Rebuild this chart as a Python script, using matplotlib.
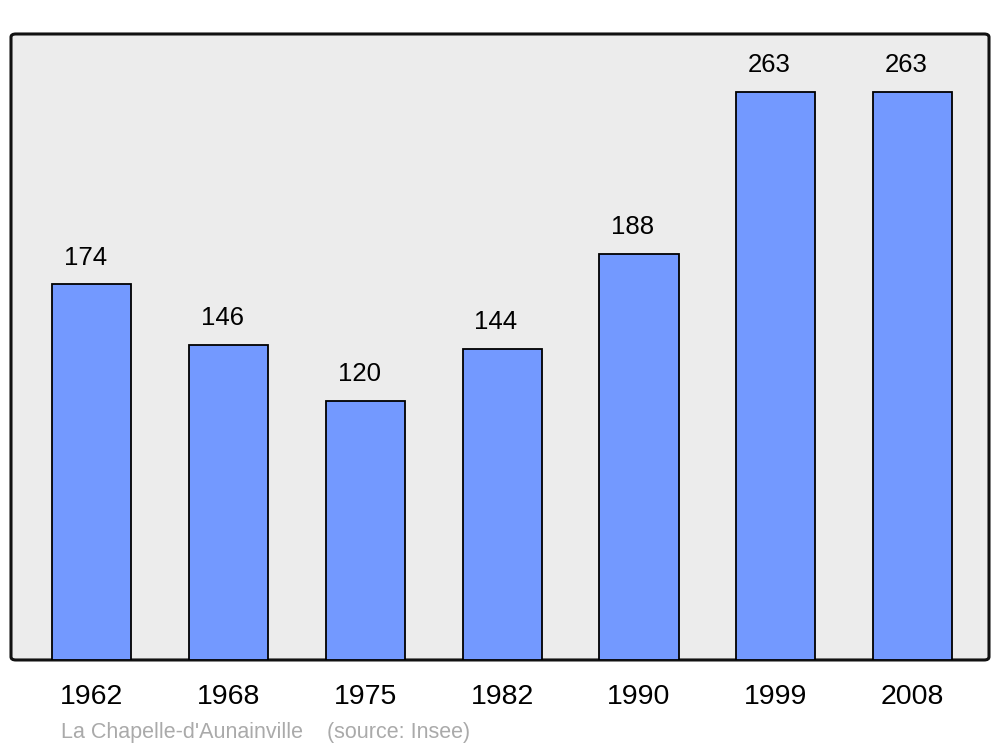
import matplotlib
matplotlib.use('Agg')
import matplotlib.pyplot as plt
import matplotlib.transforms as mtransforms
from matplotlib.patches import FancyBboxPatch

years = ['1962', '1968', '1975', '1982', '1990', '1999', '2008']
population = [174, 146, 120, 144, 188, 263, 263]
caption = "La Chapelle-d'Aunainville    (source: Insee)"

plt.rcParams['font.family'] = ['Liberation Sans', 'DejaVu Sans']

fig = plt.figure(figsize=(10, 7.47), dpi=100)
ax = fig.add_axes([0.011, 0.1165, 0.978, 0.838])
ax.set_facecolor('none')

x = list(range(len(years)))
ax.bar(x, population, width=0.578, color='#7399ff', edgecolor='black',
       linewidth=1.3, zorder=2)

for xi, v in zip(x, population):
    ax.annotate(str(v), (xi, v), xytext=(-4.5, 14), textcoords='offset points',
                ha='center', va='baseline', fontsize=18.5, color='black')

ax.set_xlim(-0.592, len(years) - 1 + 0.559)
ax.set_ylim(0, 289.8)
ax.set_xticks(x)
ax.set_xticklabels(years, fontsize=20.5)
shift = mtransforms.ScaledTranslation(-0.025, 0, fig.dpi_scale_trans)
for lbl in ax.get_xticklabels():
    lbl.set_transform(lbl.get_transform() + shift)
ax.tick_params(axis='x', length=0, pad=17)
ax.set_yticks([])
for s in ax.spines.values():
    s.set_visible(False)

frame = FancyBboxPatch((0, 0), 1, 1, boxstyle='round,pad=0,rounding_size=0.005',
                       transform=ax.transAxes, facecolor='#ececec',
                       edgecolor='#111111', linewidth=2.2, zorder=0, clip_on=False)
ax.add_patch(frame)

fig.text(0.061, 0.005, caption, fontsize=15.5, color='#aaaaaa',
         ha='left', va='bottom')

fig.savefig('out.png', dpi=100)
